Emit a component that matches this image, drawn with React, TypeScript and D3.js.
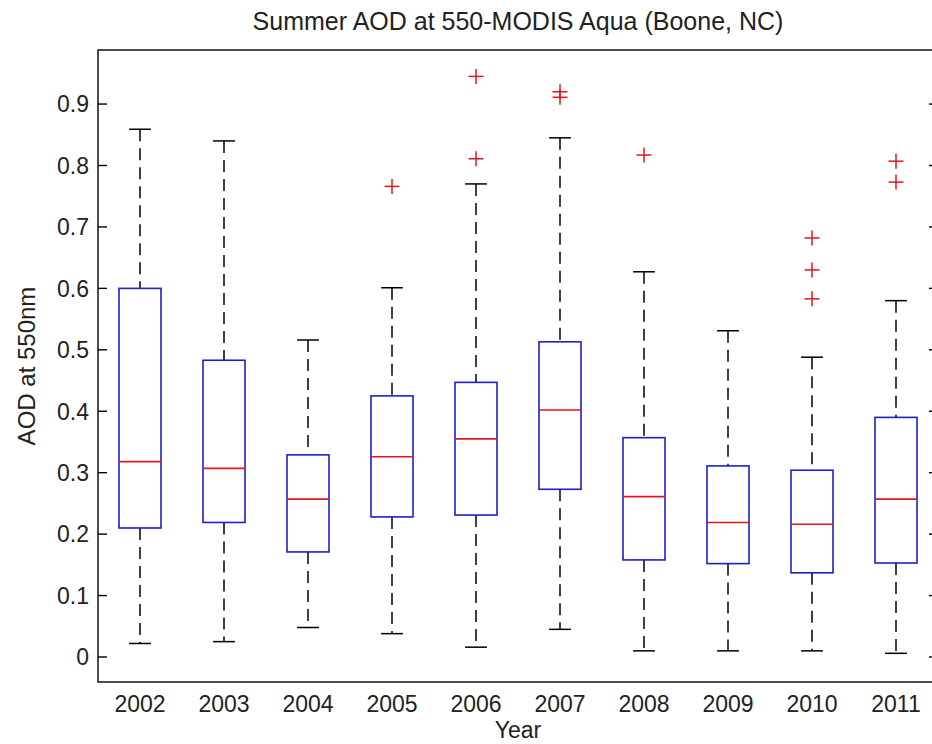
import React from "react";
import * as d3 from "d3";

const years = ["2002", "2003", "2004", "2005", "2006", "2007", "2008", "2009", "2010", "2011"];
const lowerWhisker = [0.022, 0.025, 0.048, 0.038, 0.016, 0.045, 0.010, 0.010, 0.010, 0.006];
const q1 = [0.210, 0.219, 0.171, 0.228, 0.231, 0.273, 0.158, 0.152, 0.137, 0.153];
const medians = [0.318, 0.307, 0.257, 0.326, 0.355, 0.402, 0.261, 0.219, 0.216, 0.257];
const q3 = [0.600, 0.483, 0.329, 0.425, 0.447, 0.513, 0.357, 0.311, 0.304, 0.390];
const upperWhisker = [0.859, 0.840, 0.516, 0.601, 0.770, 0.845, 0.627, 0.531, 0.488, 0.580];
const outliers: number[][] = [
  [],
  [],
  [],
  [0.766],
  [0.811, 0.945],
  [0.911, 0.920],
  [0.817],
  [],
  [0.583, 0.630, 0.682],
  [0.773, 0.807],
];
const yTicks = [0, 0.1, 0.2, 0.3, 0.4, 0.5, 0.6, 0.7, 0.8, 0.9];

const W = 932;
const H = 744;
const left = 98;
const right = 938;
const top = 50;
const bottom = 682;

const FONT = "'Liberation Sans', Arial, Helvetica, sans-serif";
const BLUE = "#1f1fc8";
const RED = "#e3161b";
const TEXT = "#222";

export default function App() {
  const x = d3.scaleLinear().domain([0.5, 10.5]).range([left, right]);
  const y = d3.scaleLinear().domain([-0.0407, 0.988]).range([bottom, top]);
  const unit = x(1) - x(0);
  const boxHalf = unit * 0.25;
  const capHalf = unit * 0.13;
  const plusHalf = 7.5;
  const tickLen = 9;

  return (
    <svg
      width={W}
      height={H}
      style={{ position: "absolute", left: 0, top: 0, display: "block", background: "#fff" }}
      fontFamily={FONT}
    >
      <rect x={0} y={0} width={W} height={H} fill="#fff" />
      <text x={(left + right) / 2} y={30} textAnchor="middle" fontSize={25} fill={TEXT}>
        Summer AOD at 550-MODIS Aqua (Boone, NC)
      </text>

      {years.map((yr, i) => {
        const cx = x(i + 1);
        return (
          <g key={yr}>
            <line
              x1={cx}
              x2={cx}
              y1={y(upperWhisker[i])}
              y2={y(q3[i])}
              stroke="#000"
              strokeWidth={1.5}
              strokeDasharray="12,7"
            />
            <line
              x1={cx}
              x2={cx}
              y1={y(q1[i])}
              y2={y(lowerWhisker[i])}
              stroke="#000"
              strokeWidth={1.5}
              strokeDasharray="12,7"
            />
            <line x1={cx - capHalf} x2={cx + capHalf} y1={y(upperWhisker[i])} y2={y(upperWhisker[i])} stroke="#000" strokeWidth={1.5} />
            <line x1={cx - capHalf} x2={cx + capHalf} y1={y(lowerWhisker[i])} y2={y(lowerWhisker[i])} stroke="#000" strokeWidth={1.5} />
            <rect
              x={cx - boxHalf}
              y={y(q3[i])}
              width={boxHalf * 2}
              height={y(q1[i]) - y(q3[i])}
              fill="none"
              stroke={BLUE}
              strokeWidth={1.6}
            />
            <line x1={cx - boxHalf} x2={cx + boxHalf} y1={y(medians[i])} y2={y(medians[i])} stroke={RED} strokeWidth={1.6} />
            {outliers[i].map((v, j) => (
              <g key={j} stroke={RED} strokeWidth={1.5}>
                <line x1={cx - plusHalf} x2={cx + plusHalf} y1={y(v)} y2={y(v)} />
                <line x1={cx} x2={cx} y1={y(v) - plusHalf} y2={y(v) + plusHalf} />
              </g>
            ))}
            <text x={cx} y={712} textAnchor="middle" fontSize={23} fill={TEXT}>
              {yr}
            </text>
          </g>
        );
      })}

      <rect x={left} y={top} width={right - left} height={bottom - top} fill="none" stroke="#000" strokeWidth={1.4} />
      {yTicks.map((t) => (
        <g key={t}>
          <line x1={left} x2={left + tickLen} y1={y(t)} y2={y(t)} stroke="#000" strokeWidth={1.4} />
          <line x1={right - tickLen} x2={right} y1={y(t)} y2={y(t)} stroke="#000" strokeWidth={1.4} />
          <text x={89} y={y(t)} dy="0.36em" textAnchor="end" fontSize={23} fill={TEXT}>
            {d3.format("~g")(t)}
          </text>
        </g>
      ))}

      <text x={(left + right) / 2} y={738} textAnchor="middle" fontSize={23} fill={TEXT}>
        Year
      </text>
      <text transform={`translate(35, ${(top + bottom) / 2}) rotate(-90)`} textAnchor="middle" fontSize={24} fill={TEXT}>
        AOD at 550nm
      </text>
    </svg>
  );
}
